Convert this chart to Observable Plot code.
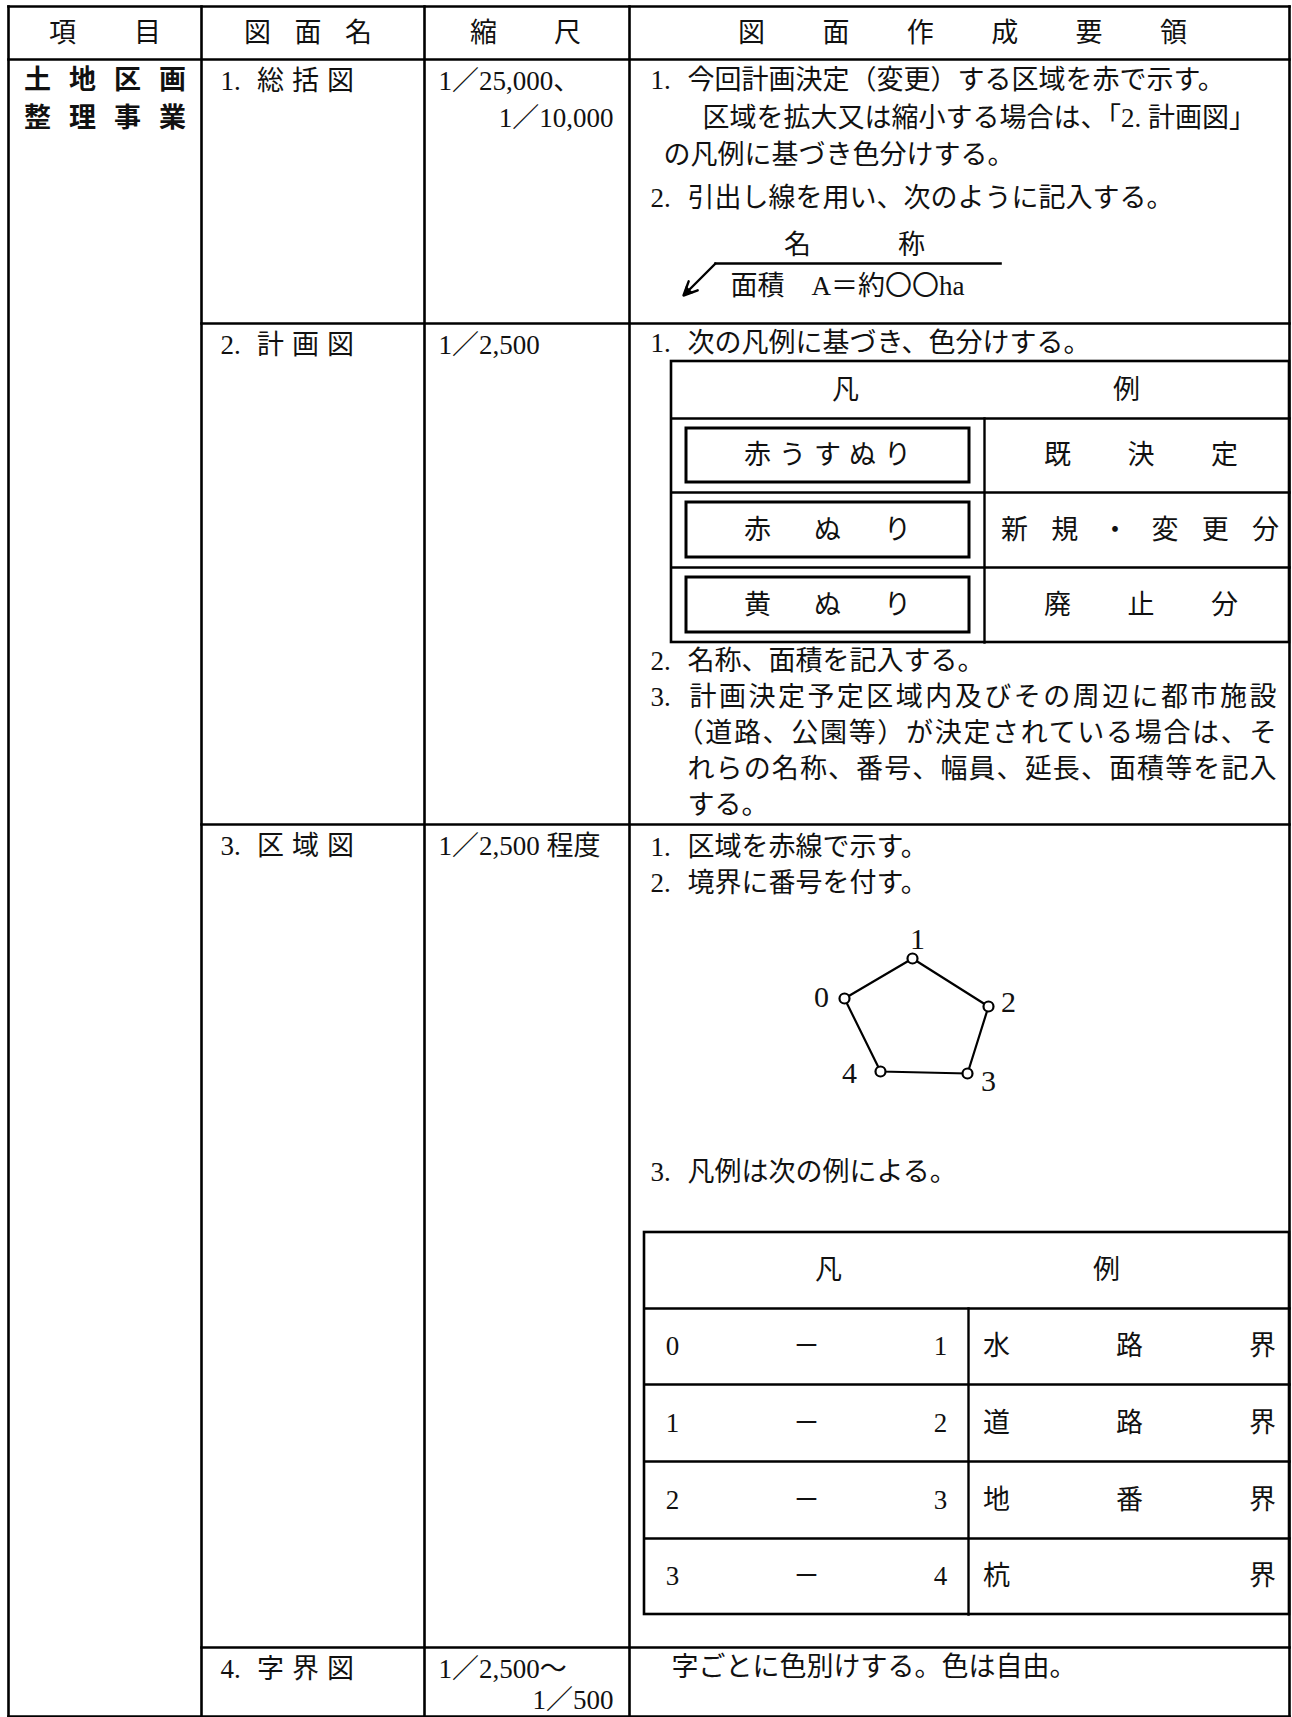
<!DOCTYPE html>
<html lang="ja">
<head>
<meta charset="utf-8">
<script src="https://cdn.jsdelivr.net/npm/d3@7"></script>
<script src="https://cdn.jsdelivr.net/npm/@observablehq/plot@0.6"></script>
<style>
  html, body { margin: 0; padding: 0; background: #fff; }
  #chart svg { display: block; }
</style>
</head>
<body>
<div id="chart"></div>
<script>
// ===================== CONTENT (data) =====================
const headerLabels = ["項目", "図面名", "縮尺", "図面作成要領"];
const categoryLines = ["土地区画", "整理事業"];
const drawingNumbers = ["1.", "2.", "3.", "4."];
const drawingNames = ["総括図", "計画図", "区域図", "字界図"];
const scaleLines = [["1／25,000、", "1／10,000"], ["1／2,500"], ["1／2,500 程度"], ["1／2,500〜", "1／500"]];

const summaryNumbers = ["1.", "2."];
const summaryLines = [
  "今回計画決定（変更）する区域を赤で示す。",
  "区域を拡大又は縮小する場合は、「2. 計画図」",
  "の凡例に基づき色分けする。",
  "引出し線を用い、次のように記入する。"
];
const leaderName = "名称";
const leaderArea = "面積　A＝約〇〇ha";

const planIntroNumber = "1.";
const planIntro = "次の凡例に基づき、色分けする。";
const legendTitle = "凡例";
const planFills = ["赤うすぬり", "赤ぬり", "黄ぬり"];
const planMeanings = ["既決定", "新規・変更分", "廃止分"];
const planNoteNumbers = ["2.", "3."];
const planNoteLines = [
  "名称、面積を記入する。",
  "計画決定予定区域内及びその周辺に都市施設",
  "（道路、公園等）が決定されている場合は、そ",
  "れらの名称、番号、幅員、延長、面積等を記入",
  "する。"
];

const areaNumbers = ["1.", "2.", "3."];
const areaLines = ["区域を赤線で示す。", "境界に番号を付す。", "凡例は次の例による。"];
const boundaryIds = ["0", "1", "2", "3", "4"];
const boundaryFrom = ["0", "1", "2", "3"];
const boundaryTo = ["1", "2", "3", "4"];
const boundaryKinds = ["水路界", "道路界", "地番界", "杭界"];

const azaNote = "字ごとに色別けする。色は自由。";

// ===================== LAYOUT (positions & styles) =====================
const W = 1292, H = 1717;
const FS = 27;
const INK = "#111";
const FONT = '"Liberation Serif", "Noto Sans CJK JP", serif';
const L = {
  colX: [8, 201, 424, 629, 1289],
  rowY: [6, 59, 323, 824, 1647, 1716],
  headerY: 33,
  headerSpans: [[62, 147], [257, 358], [483, 567], [751, 1173]],
  catX: [37, 172], catY: [80, 118],
  firstLine: 22,
  nameNumX: 220, nameCharX: [270, 340],
  scaleX: 438, scaleRightX: 613, scaleGap: [37, 0, 0, 31],
  numX: 650, bodyX: 687,
  // row 1
  summaryX: [687, 702, 663, 687], summaryY: [80, 118, 155, 198], summaryNumRow: [0, 3],
  nameSpan: [797, 911], nameY: 245,
  leaderY: 263, leaderX: [715, 1000], arrowTip: [683, 295],
  areaTextX: 730, areaTextY: 286,
  // row 2
  planIntroY: 343,
  t1X: [671, 984, 1289], t1Y: [361, 418, 492, 567, 642],
  t1HeadSpan: [845, 1126], boxX: [686, 969], boxInset: 10,
  fillSpan: [757, 897],
  meaningSpans: [[1057, 1224], [1014, 1265], [1057, 1224]],
  planNoteY: [661, 697, 733, 769, 805], planNoteX: [687, 689, 676, 687, 687], planNoteNumRow: [0, 1],
  justify: [0, 587, 600, 589, 0],
  // row 3
  areaY: [847, 883, 1172],
  boundaryOrigin: [912, 1015],
  boundaryGeom: [
    {dx: -68, dy: -17, lx: -23, ly: -1},
    {dx: 0, dy: -57, lx: 5, ly: -19},
    {dx: 76, dy: -9, lx: 20, ly: -4},
    {dx: 55, dy: 58, lx: 21, ly: 8},
    {dx: -32, dy: 56, lx: -31, ly: 2}
  ],
  labelFS: 30,
  t2X: [644, 968, 1289], t2Y: [1232, 1308, 1384, 1461, 1538, 1614],
  t2HeadSpan: [828, 1106], pairSpan: [672, 940], kindSpan: [996, 1262],
  // row 4
  azaX: 671, azaY: 1667
};

// ===================== BUILD MARK DATA =====================
function spread(str, x0, x1, y) {
  const chars = Array.from(str);
  const n = chars.length;
  return chars.map((c, i) => ({t: c, x: n === 1 ? (x0 + x1) / 2 : x0 + (x1 - x0) * i / (n - 1), y}));
}
const mid = [], start = [], end = [], bold = [], segs = [], rects = [];
const seg = (x1, y1, x2, y2, w = 2.6) => segs.push({x1, y1, x2, y2, w});

// outer grid
const [cx0, cx1, cx2, cx3, cx4] = L.colX;
const ry = L.rowY;
L.colX.forEach(x => seg(x, ry[0], x, ry[5]));
[ry[0], ry[1], ry[5]].forEach(y => seg(cx0, y, cx4, y));
[ry[2], ry[3], ry[4]].forEach(y => seg(cx1, y, cx4, y));

// header
headerLabels.forEach((h, i) => mid.push(...spread(h, L.headerSpans[i][0], L.headerSpans[i][1], L.headerY)));
// category
categoryLines.forEach((s, i) => bold.push(...spread(s, L.catX[0], L.catX[1], L.catY[i])));
// drawing names & scales
drawingNames.forEach((n, i) => {
  const y = ry[i + 1] + L.firstLine;
  start.push({t: drawingNumbers[i], x: L.nameNumX, y});
  mid.push(...spread(n, L.nameCharX[0], L.nameCharX[1], y));
  scaleLines[i].forEach((s, j) => {
    if (j === 0) start.push({t: s, x: L.scaleX, y});
    else end.push({t: s, x: L.scaleRightX, y: y + L.scaleGap[i]});
  });
});

// row 1: summary
summaryLines.forEach((s, i) => start.push({t: s, x: L.summaryX[i], y: L.summaryY[i]}));
L.summaryNumRow.forEach((r, k) => start.push({t: summaryNumbers[k], x: L.numX, y: L.summaryY[r]}));
mid.push(...spread(leaderName, L.nameSpan[0], L.nameSpan[1], L.nameY));
seg(L.leaderX[0], L.leaderY, L.leaderX[1], L.leaderY, 2.6);
start.push({t: leaderArea, x: L.areaTextX, y: L.areaTextY});

// row 2: plan
start.push({t: planIntroNumber, x: L.numX, y: L.planIntroY});
start.push({t: planIntro, x: L.bodyX, y: L.planIntroY});
rects.push({x1: L.t1X[0], x2: L.t1X[2], y1: L.t1Y[0], y2: L.t1Y[4], w: 2.6});
L.t1Y.slice(1, 4).forEach(y => seg(L.t1X[0], y, L.t1X[2], y, 2.4));
seg(L.t1X[1], L.t1Y[1], L.t1X[1], L.t1Y[4], 2.4);
mid.push(...spread(legendTitle, L.t1HeadSpan[0], L.t1HeadSpan[1], (L.t1Y[0] + L.t1Y[1]) / 2));
planFills.forEach((f, i) => {
  const y0 = L.t1Y[i + 1], y1 = L.t1Y[i + 2], yc = (y0 + y1) / 2;
  rects.push({x1: L.boxX[0], x2: L.boxX[1], y1: y0 + L.boxInset, y2: y1 - L.boxInset, w: 3});
  mid.push(...spread(f, L.fillSpan[0], L.fillSpan[1], yc));
  mid.push(...spread(planMeanings[i], L.meaningSpans[i][0], L.meaningSpans[i][1], yc));
});
const justifyMap = new Map();
planNoteLines.forEach((s, i) => {
  start.push({t: s, x: L.planNoteX[i], y: L.planNoteY[i]});
  if (L.justify[i]) justifyMap.set(s, L.justify[i]);
});
L.planNoteNumRow.forEach((r, k) => start.push({t: planNoteNumbers[k], x: L.numX, y: L.planNoteY[r]}));

// row 3: area
areaLines.forEach((s, i) => {
  start.push({t: areaNumbers[i], x: L.numX, y: L.areaY[i]});
  start.push({t: s, x: L.bodyX, y: L.areaY[i]});
});
const pts = boundaryIds.map((id, i) => ({
  id,
  x: L.boundaryOrigin[0] + L.boundaryGeom[i].dx,
  y: L.boundaryOrigin[1] + L.boundaryGeom[i].dy,
  lx: L.boundaryOrigin[0] + L.boundaryGeom[i].dx + L.boundaryGeom[i].lx,
  ly: L.boundaryOrigin[1] + L.boundaryGeom[i].dy + L.boundaryGeom[i].ly
}));
const ring = [...pts, pts[0]];
rects.push({x1: L.t2X[0], x2: L.t2X[2], y1: L.t2Y[0], y2: L.t2Y[5], w: 2.6});
L.t2Y.slice(1, 5).forEach(y => seg(L.t2X[0], y, L.t2X[2], y, 2.4));
seg(L.t2X[1], L.t2Y[1], L.t2X[1], L.t2Y[5], 2.4);
mid.push(...spread(legendTitle, L.t2HeadSpan[0], L.t2HeadSpan[1], (L.t2Y[0] + L.t2Y[1]) / 2));
boundaryKinds.forEach((k, i) => {
  const yc = (L.t2Y[i + 1] + L.t2Y[i + 2]) / 2;
  mid.push(...spread(boundaryFrom[i] + "－" + boundaryTo[i], L.pairSpan[0], L.pairSpan[1], yc));
  mid.push(...spread(k, L.kindSpan[0], L.kindSpan[1], yc));
});

// row 4
start.push({t: azaNote, x: L.azaX, y: L.azaY});

// ===================== PLOT =====================
const textOpts = {x: "x", y: "y", text: "t", fontSize: FS, fill: INK, lineAnchor: "middle"};
const chart = Plot.plot({
  width: W, height: H,
  marginTop: 0, marginRight: 0, marginBottom: 0, marginLeft: 0,
  x: {type: "linear", domain: [0, W], range: [0, W], axis: null},
  y: {type: "linear", domain: [0, H], range: [0, H], axis: null},
  style: {fontFamily: FONT, background: "#fff", color: INK, overflow: "visible"},
  marks: [
    Plot.link(segs, {x1: "x1", y1: "y1", x2: "x2", y2: "y2", stroke: "#000", strokeWidth: d => d.w, strokeLinecap: "square"}),
    Plot.rect(rects, {x1: "x1", x2: "x2", y1: "y1", y2: "y2", fill: "none", stroke: "#000", strokeWidth: d => d.w}),
    Plot.line(ring, {x: "x", y: "y", stroke: "#000", strokeWidth: 2.2, curve: "linear"}),
    Plot.dot(pts, {x: "x", y: "y", r: 5, fill: "#fff", stroke: "#000", strokeWidth: 2.2}),
    Plot.text(pts, {x: "lx", y: "ly", text: "id", fontSize: L.labelFS, fill: INK}),
    Plot.arrow([{x1: L.leaderX[0], y1: L.leaderY, x2: L.arrowTip[0], y2: L.arrowTip[1]}],
      {x1: "x1", y1: "y1", x2: "x2", y2: "y2", stroke: "#000", strokeWidth: 2.4, headLength: 13, headAngle: 50}),
    Plot.dot([{x: L.arrowTip[0] + 4, y: L.arrowTip[1] - 4}], {x: "x", y: "y", symbol: "triangle2", r: 5, rotate: 225, fill: "#000"}),
    Plot.text(mid, {...textOpts, textAnchor: "middle"}),
    Plot.text(start, {...textOpts, textAnchor: "start"}),
    Plot.text(end, {...textOpts, textAnchor: "end"}),
    Plot.text(bold, {...textOpts, textAnchor: "middle", fontWeight: "bold"})
  ]
});
chart.querySelectorAll("text").forEach(t => {
  const w = justifyMap.get(t.textContent);
  if (w) { t.setAttribute("textLength", w); t.setAttribute("lengthAdjust", "spacing"); }
});
document.getElementById("chart").appendChild(chart);
</script>
</body>
</html>
